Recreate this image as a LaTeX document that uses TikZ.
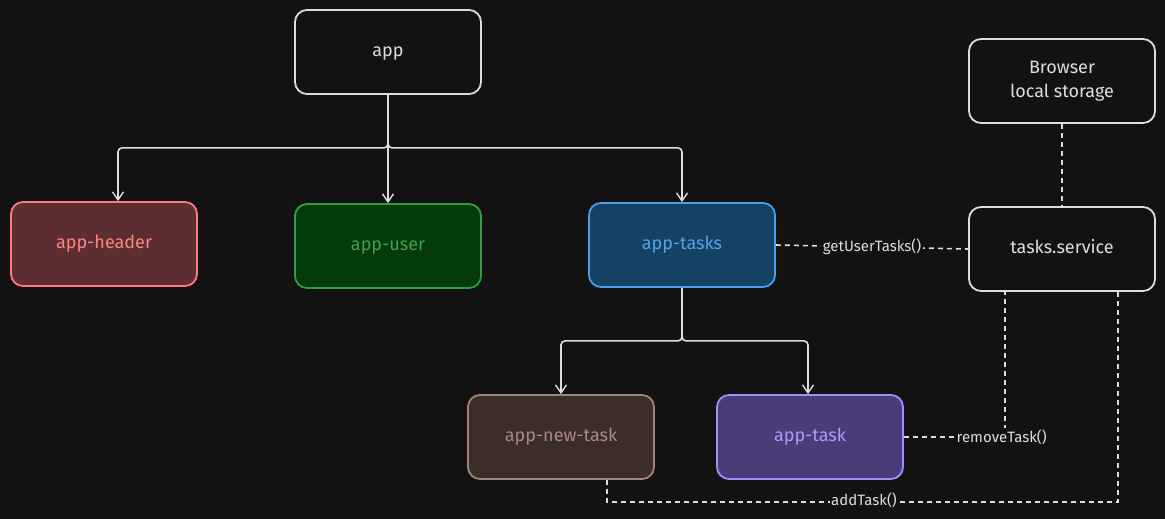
\documentclass[tikz,border=0pt]{standalone}
\usepackage{fontspec}
\setmainfont{Fira Sans}
\usetikzlibrary{arrows.meta}
\definecolor{bg}{HTML}{121212}
\definecolor{ln}{HTML}{DDDDDD}
\definecolor{hdF}{HTML}{5C2E2F}\definecolor{hdD}{HTML}{FF7B7B}\definecolor{hdT}{HTML}{FF8383}
\definecolor{usF}{HTML}{043B0C}\definecolor{usD}{HTML}{2F9E44}\definecolor{usT}{HTML}{40A04F}
\definecolor{tsF}{HTML}{154163}\definecolor{tsD}{HTML}{4A9EED}\definecolor{tsT}{HTML}{56A2E8}
\definecolor{ntF}{HTML}{3B2D28}\definecolor{ntD}{HTML}{A0857A}\definecolor{ntT}{HTML}{A58A80}
\definecolor{tkF}{HTML}{4A3C78}\definecolor{tkD}{HTML}{A78BFA}\definecolor{tkT}{HTML}{B197FC}
\tikzset{
  box/.style={draw=ln, fill=bg, line width=1.8pt, rounded corners=12pt,
    minimum width=186pt, minimum height=84pt, inner sep=0pt, align=center,
    font=\fontsize{18}{24}\selectfont, text=ln},
  onebox/.style={box, text height=9pt, text depth=0pt},
  conn/.style={draw=ln, line width=1.6pt, rounded corners=4pt},
  arr/.style={conn, -{Straight Barb[length=8pt,width=11pt,line width=1.4pt]}},
  dashline/.style={draw=ln, line width=1.6pt, dash pattern=on 5pt off 4pt},
  lbl/.style={fill=bg, text=ln, inner sep=1.5pt, font=\fontsize{15}{17}\selectfont}
}
\begin{document}
\begin{tikzpicture}[x=1pt,y=-1pt]
\fill[bg] (0,0) rectangle (1165,519);
\useasboundingbox (0,0) rectangle (1165,519);

\node[onebox] (app) at (388,52) {app};
\node[onebox, fill=hdF, draw=hdD, text=hdT] (hdr) at (104,244) {app-header};
\node[onebox, fill=usF, draw=usD, text=usT] (usr) at (388,246) {app-user};
\node[onebox, fill=tsF, draw=tsD, text=tsT] (tsk) at (682,245) {app-tasks};
\node[onebox] (svc) at (1062,249) {tasks.service};
\node[box] (brw) at (1062,81) {Browser\\local storage};
\node[onebox, fill=ntF, draw=ntD, text=ntT] (new) at (561,437) {app-new-task};
\node[onebox, fill=tkF, draw=tkD, text=tkT] (one) at (810,437) {app-task};

% tree from app
\draw[arr] (app.south) -- ++(0,53) -| ([xshift=14pt]hdr.north);
\draw[arr] (app.south) -- (usr.north);
\draw[arr] (app.south) -- ++(0,53) -| (tsk.north);

% tree from app-tasks
\draw[arr] (tsk.south) -- ++(0,53) -| (new.north);
\draw[arr] (tsk.south) -- ++(0,53) -| ([xshift=-2pt]one.north);

% dashed service links
\draw[dashline] (tsk.east) -- node[lbl] (l1) {getUserTasks()} (svc.west);
\draw[dashline] (brw.south) -- (svc.north);
\coordinate (c1) at (1005,437);
\draw[dashline] (one.east) -- (c1) -- (c1 |- svc.south);
\node[lbl, anchor=west] (l2) at (955,437) {removeTask()};
\coordinate (c2) at (607,502);
\coordinate (c3) at (1118,502);
\draw[dashline] (c2 |- new.south) -- (c2) -- (c3) -- (c3 |- svc.south);
\node[lbl] (l3) at (864,500) {addTask()};
\end{tikzpicture}
\end{document}
